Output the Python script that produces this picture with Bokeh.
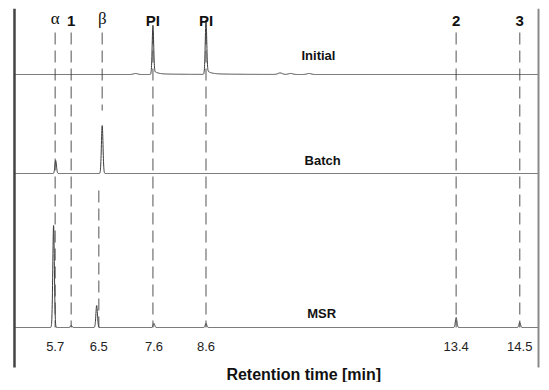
import numpy as np
from bokeh.plotting import figure
from bokeh.models import Range1d
from bokeh.core.properties import value
from bokeh.embed import file_html
from bokeh.resources import INLINE

# ---------------- data ----------------
# retention time [min] and relative detector response of each peak
initial_rt = [7.58, 8.59]
initial_h = [47, 52]
initial_minor_rt = [7.25, 10.0, 10.2, 10.55]
initial_minor_h = [1.0, 1.5, 1.0, 1.0]

batch_rt = [5.73, 6.615]
batch_h = [13, 48]

msr_rt = [5.69, 6.025, 6.51, 7.6, 8.59, 13.35, 14.56]
msr_h = [102, 2, 22, 4, 4, 10, 5]

guide_labels = ["α", "1", "β", "PI", "PI", "2", "3"]
guide_rt = [5.72, 6.025, 6.615, 7.58, 8.59, 13.35, 14.56]
beta_msr_rt = 6.55

tick_labels = ["5.7", "6.5", "7.6", "8.6", "13.4", "14.5"]
tick_rt = [5.72, 6.55, 7.6, 8.59, 13.35, 14.56]

trace_names = ["Initial", "Batch", "MSR"]
t_start, t_end = 4.946, 14.917

# ---------------- layout ----------------
offsets = {"Initial": 308, "Batch": 209, "MSR": 55}
t = np.arange(t_start, t_end, 0.002)


def peaks(rts, hs, sigma=0.015, tail_frac=0.0, tau=0.1, tail2=0.0, tau2=0.6):
    y = np.zeros_like(t)
    for rt, h in zip(rts, hs):
        y += h * np.exp(-0.5 * ((t - rt) / sigma) ** 2)
        if tail_frac or tail2:
            step = 1.0 / (1.0 + np.exp(-(t - rt) / sigma))
            dt = np.clip(t - rt, 0, None)
            y += h * step * (tail_frac * np.exp(-dt / tau) + tail2 * np.exp(-dt / tau2))
    return y


y_init = offsets["Initial"] + peaks(initial_rt, initial_h, sigma=0.014, tail_frac=0.08,
                                    tau=0.07, tail2=0.015, tau2=0.5) \
    + peaks(initial_minor_rt, initial_minor_h, sigma=0.04)
y_batch = offsets["Batch"] + peaks(batch_rt, batch_h, sigma=0.015)
y_msr = offsets["MSR"] + peaks(msr_rt, msr_h, sigma=0.015)

p = figure(width=541, height=382, x_range=Range1d(4.832, 14.974), y_range=Range1d(0, 374),
           output_backend="svg", toolbar_location=None, x_axis_type=None, y_axis_type=None,
           min_border=0, min_border_left=8, min_border_top=8,
           outline_line_color=None, background_fill_color="white",
           border_fill_color="white")
p.xgrid.visible = False
p.ygrid.visible = False

# dashed guide lines
top = 350
gx, gy0, gy1 = [], [], []
for lab, rt in zip(guide_labels, guide_rt):
    if lab == "β":
        gx += [rt, beta_msr_rt]
        gy0 += [top, offsets["Batch"] + 17 - 34]
        gy1 += [offsets["Batch"] + 63, offsets["MSR"]]
    else:
        gx.append(rt)
        gy0.append(top)
        gy1.append(offsets["MSR"])
p.segment(x0=gx, y0=gy0, x1=gx, y1=gy1, line_color="#7a7a7a", line_width=1.3,
          line_dash="12 6")

# traces
for y in (y_init, y_batch, y_msr):
    p.line(t, y, line_color="#3a3a3a", line_width=1)

# side frame lines
p.segment(x0=[t_start], y0=[374], x1=[t_start], y1=[15], line_color="#444444", line_width=2.5)
p.segment(x0=[t_end], y0=[374], x1=[t_end], y1=[15], line_color="#8a8a8a", line_width=2)

# labels over guides
greek = [i for i, l in enumerate(guide_labels) if l in ("α", "β")]
other = [i for i, l in enumerate(guide_labels) if l not in ("α", "β")]
p.text(x=[guide_rt[i] for i in greek], y=[364, 364], text=[guide_labels[i] for i in greek],
       text_font=value("Liberation Serif"), text_font_size="17px", text_align="center",
       text_baseline="middle", text_color="#111111")
p.text(x=[guide_rt[i] for i in other], y=[362] * len(other), text=[guide_labels[i] for i in other],
       text_font=value("Liberation Sans"), text_font_size="15px", text_font_style="bold",
       text_align="center", text_baseline="middle", text_color="#111111")

# trace names
p.text(x=[10.73, 10.81, 10.79], y=[327, 222, 69], text=trace_names,
       text_font=value("Liberation Sans"), text_font_size="13px", text_font_style="bold",
       text_align="center", text_baseline="middle", text_color="#111111")

# retention time labels
p.text(x=tick_rt, y=[36] * len(tick_rt), text=tick_labels,
       text_font=value("Liberation Sans"), text_font_size="13px",
       text_align="center", text_baseline="middle", text_color="#222222")

# axis title
p.text(x=[10.45], y=[8], text=["Retention time [min]"],
       text_font=value("Liberation Sans"), text_font_size="16px", text_font_style="bold",
       text_align="center", text_baseline="middle", text_color="#111111")

open("out.html", "w").write(file_html(p, INLINE))
